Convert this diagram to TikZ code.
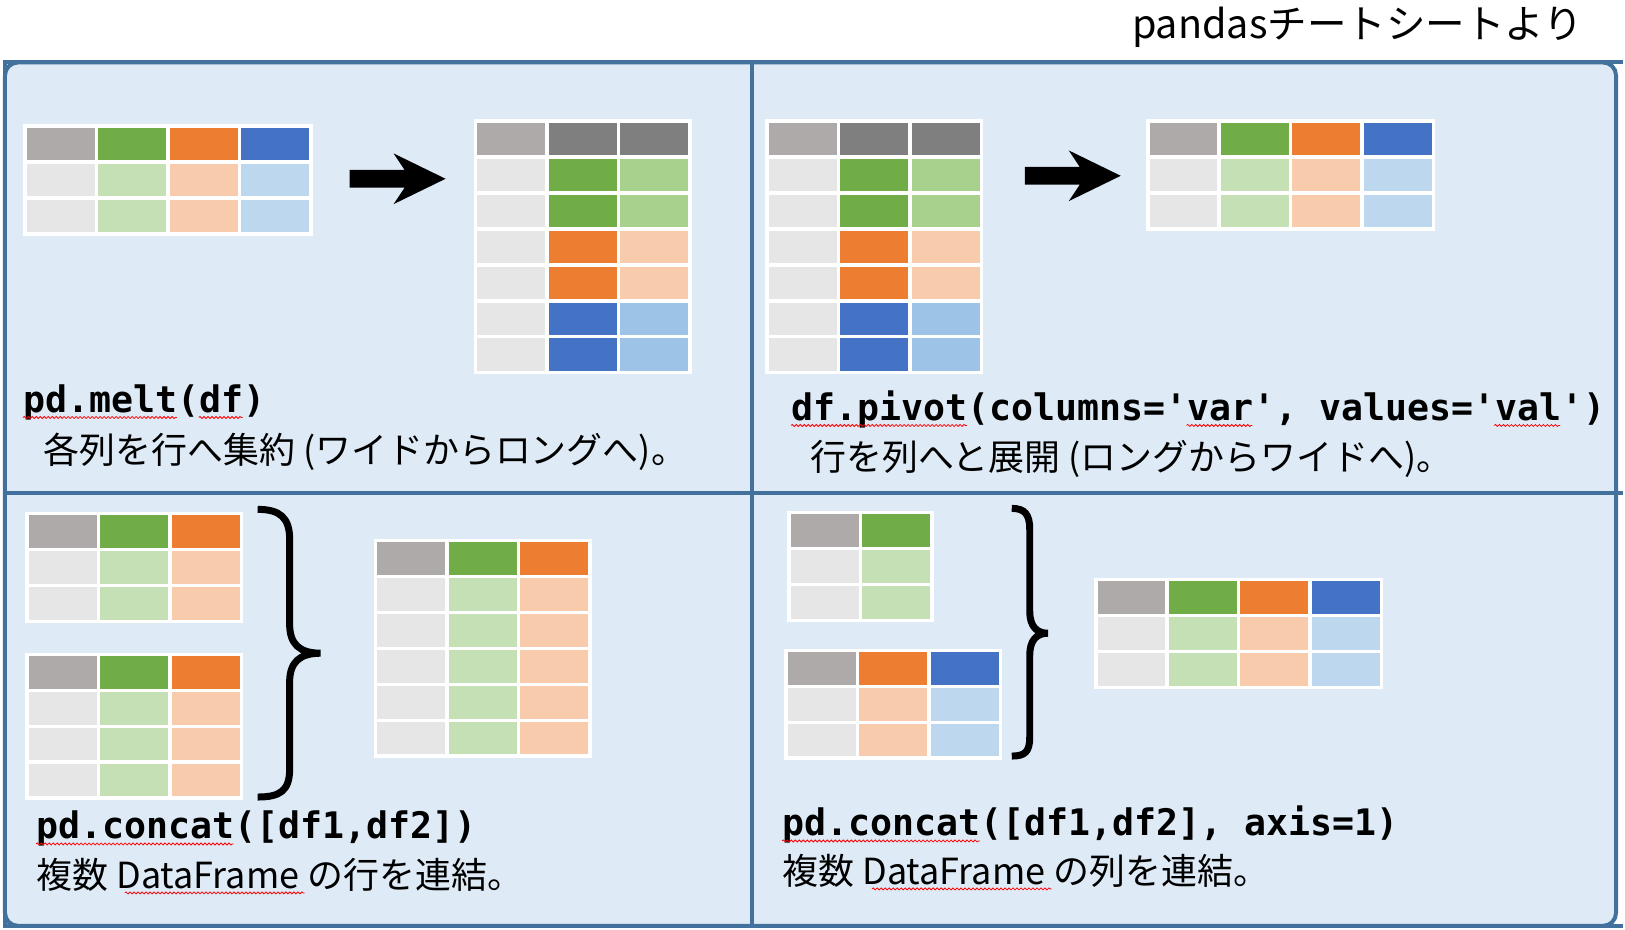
\documentclass[tikz,border=0pt]{standalone}
\usepackage{fontspec}
\newfontfamily\jpfont{Noto Sans CJK JP}
\newfontfamily\codefont{DejaVu Sans Mono}[Ligatures=TeXOff]
\usetikzlibrary{matrix,shapes.arrows,decorations.pathmorphing}
\definecolor{panelblue}{HTML}{DEEBF7}
\definecolor{lineblue}{HTML}{41719C}
\definecolor{hgray}{HTML}{AEAAAA}
\definecolor{hdark}{HTML}{7F7F7F}
\definecolor{hgreen}{HTML}{70AD47}
\definecolor{horange}{HTML}{ED7D31}
\definecolor{hblue}{HTML}{4472C4}
\definecolor{bgray}{HTML}{E7E6E6}
\definecolor{bgreen}{HTML}{C5E0B4}
\definecolor{borange}{HTML}{F8CBAD}
\definecolor{bblue}{HTML}{BDD7EE}
\definecolor{vgreen}{HTML}{A9D18E}
\definecolor{vblue}{HTML}{9DC3E6}
\tikzset{
  cell/.style={minimum width=34pt, minimum height=16.25pt, inner sep=0pt, outer sep=0pt},
  tbl/.style={matrix of nodes, nodes in empty cells, fill=white, inner sep=1.75pt,
    column sep=1.75pt, row sep=1.75pt, nodes={cell}, anchor=north west},
  gray head/.style={fill=hgray}, dark head/.style={fill=hdark},
  green head/.style={fill=hgreen}, orange head/.style={fill=horange}, blue head/.style={fill=hblue},
  gray body/.style={fill=bgray}, green body/.style={fill=bgreen},
  orange body/.style={fill=borange}, blue body/.style={fill=bblue},
  green val/.style={fill=vgreen}, blue val/.style={fill=vblue},
  frameline/.style={lineblue, line width=2pt},
  block arrow/.style={single arrow, fill=black, inner xsep=0pt, inner ysep=4.25pt, outer sep=0pt,
    minimum height=48pt, minimum width=0pt, single arrow head extend=8.25pt,
    single arrow head indent=5.5pt, single arrow tip angle=52},
  curly/.style={line width=3.5pt, black},
  code/.style={font=\codefont\bfseries\fontsize{18.3}{22}\selectfont, anchor=base west, inner sep=0pt},
  jp/.style={font=\jpfont\fontsize{18}{22}\selectfont, anchor=base west, inner sep=0pt},
  squiggle/.style={red, line width=0.4pt, decorate, decoration={snake, amplitude=0.5pt, segment length=2pt}}
}
\begin{document}
\begin{tikzpicture}[x=0.5pt,y=-0.5pt]
\fill[white] (0,0) rectangle (1625,931);
\draw[lineblue, line width=2pt, fill=panelblue, rounded corners=6.5pt] (5,62.5) rectangle (1618,927);
\draw[frameline] (3,62.5) -- (1625,62.5);
\draw[frameline] (3,927) -- (1625,927);
\draw[frameline] (5,60.5) -- (5,929);
\draw[frameline] (753,62.5) -- (753,927);
\draw[frameline] (5,494) -- (1625,494);
\node[jp, font=\jpfont\fontsize{19.8}{24}\selectfont] (title) at (1133,39) {pandasチートシートより};

\matrix (wideA) at (23,124) [tbl] {
|[gray head]| & |[green head]| & |[orange head]| & |[blue head]| \\
|[gray body]| & |[green body]| & |[orange body]| & |[blue body]| \\
|[gray body]| & |[green body]| & |[orange body]| & |[blue body]| \\
};
\node[block arrow] (meltarrow) at (389,179) {};
\matrix (longA) at (474,119) [tbl] {
|[gray head]| & |[dark head]| & |[dark head]| \\
|[gray body]| & |[green head]| & |[green val]| \\
|[gray body]| & |[green head]| & |[green val]| \\
|[gray body]| & |[orange head]| & |[orange body]| \\
|[gray body]| & |[orange head]| & |[orange body]| \\
|[gray body]| & |[blue head]| & |[blue val]| \\
|[gray body]| & |[blue head]| & |[blue val]| \\
};
\node[code] (melt) at (23,413) {pd.melt(df)};
\node[jp] (meltnote) at (43,464) {各列を行へ集約 (ワイドからロングへ)。};
\draw[squiggle] (23,418) -- (177,418);
\draw[squiggle] (199,418) -- (243,418);

\matrix (longB) at (766,119) [tbl] {
|[gray head]| & |[dark head]| & |[dark head]| \\
|[gray body]| & |[green head]| & |[green val]| \\
|[gray body]| & |[green head]| & |[green val]| \\
|[gray body]| & |[orange head]| & |[orange body]| \\
|[gray body]| & |[orange head]| & |[orange body]| \\
|[gray body]| & |[blue head]| & |[blue val]| \\
|[gray body]| & |[blue head]| & |[blue val]| \\
};
\node[block arrow] (pivotarrow) at (1065,176) {};
\matrix (wideB) at (1147,119) [tbl] {
|[gray head]| & |[green head]| & |[orange head]| & |[blue head]| \\
|[gray body]| & |[green body]| & |[orange body]| & |[blue body]| \\
|[gray body]| & |[green body]| & |[orange body]| & |[blue body]| \\
};
\node[code] (pivot) at (792,421) {df.pivot(columns='var', values='val')};
\node[jp] (pivotnote) at (811,471) {行を列へと展開 (ロングからワイドへ)。};
\draw[squiggle] (792,426) -- (968,426);
\draw[squiggle] (1188,426) -- (1254,426);
\draw[squiggle] (1496,426) -- (1562,426);

\matrix (rowsA) at (25,512) [tbl] {
|[gray head]| & |[green head]| & |[orange head]| \\
|[gray body]| & |[green body]| & |[orange body]| \\
|[gray body]| & |[green body]| & |[orange body]| \\
};
\matrix (rowsB) at (25,653) [tbl] {
|[gray head]| & |[green head]| & |[orange head]| \\
|[gray body]| & |[green body]| & |[orange body]| \\
|[gray body]| & |[green body]| & |[orange body]| \\
|[gray body]| & |[green body]| & |[orange body]| \\
};
\draw[curly] (258,510) .. controls (280,510) and (290,518) .. (290,540) -- (290,625)
  .. controls (290,645) and (300,654) .. (321,654) .. controls (300,654) and (290,663) .. (290,683)
  -- (290,770) .. controls (290,792) and (280,798) .. (258,798);
\matrix (rowsAB) at (374,539) [tbl] {
|[gray head]| & |[green head]| & |[orange head]| \\
|[gray body]| & |[green body]| & |[orange body]| \\
|[gray body]| & |[green body]| & |[orange body]| \\
|[gray body]| & |[green body]| & |[orange body]| \\
|[gray body]| & |[green body]| & |[orange body]| \\
|[gray body]| & |[green body]| & |[orange body]| \\
};
\node[code] (rowconcat) at (36,840) {pd.concat([df1,df2])};
\node[jp] (rownote) at (36,890) {複数 DataFrame の行を連結。};
\draw[squiggle] (36,845) -- (234,845);
\draw[squiggle] (125,894) -- (305,894);

\matrix (colsA) at (788,511) [tbl] {
|[gray head]| & |[green head]| \\
|[gray body]| & |[green body]| \\
|[gray body]| & |[green body]| \\
};
\matrix (colsB) at (785,649) [tbl] {
|[gray head]| & |[orange head]| & |[blue head]| \\
|[gray body]| & |[orange body]| & |[blue body]| \\
|[gray body]| & |[orange body]| & |[blue body]| \\
};
\draw[curly] (1013,509) .. controls (1026,509) and (1031,515) .. (1031,530) -- (1031,612)
  .. controls (1031,627) and (1038,634) .. (1049,634) .. controls (1038,634) and (1031,641) .. (1031,656)
  -- (1031,738) .. controls (1031,753) and (1026,757) .. (1013,757);
\matrix (colsAB) at (1095,578) [tbl] {
|[gray head]| & |[green head]| & |[orange head]| & |[blue head]| \\
|[gray body]| & |[green body]| & |[orange body]| & |[blue body]| \\
|[gray body]| & |[green body]| & |[orange body]| & |[blue body]| \\
};
\node[code] (colconcat) at (783,837) {pd.concat([df1,df2], axis=1)};
\node[jp] (colnote) at (783,886) {複数 DataFrame の列を連結。};
\draw[squiggle] (783,842) -- (981,842);
\draw[squiggle] (873,890) -- (1053,890);
\end{tikzpicture}
\end{document}
